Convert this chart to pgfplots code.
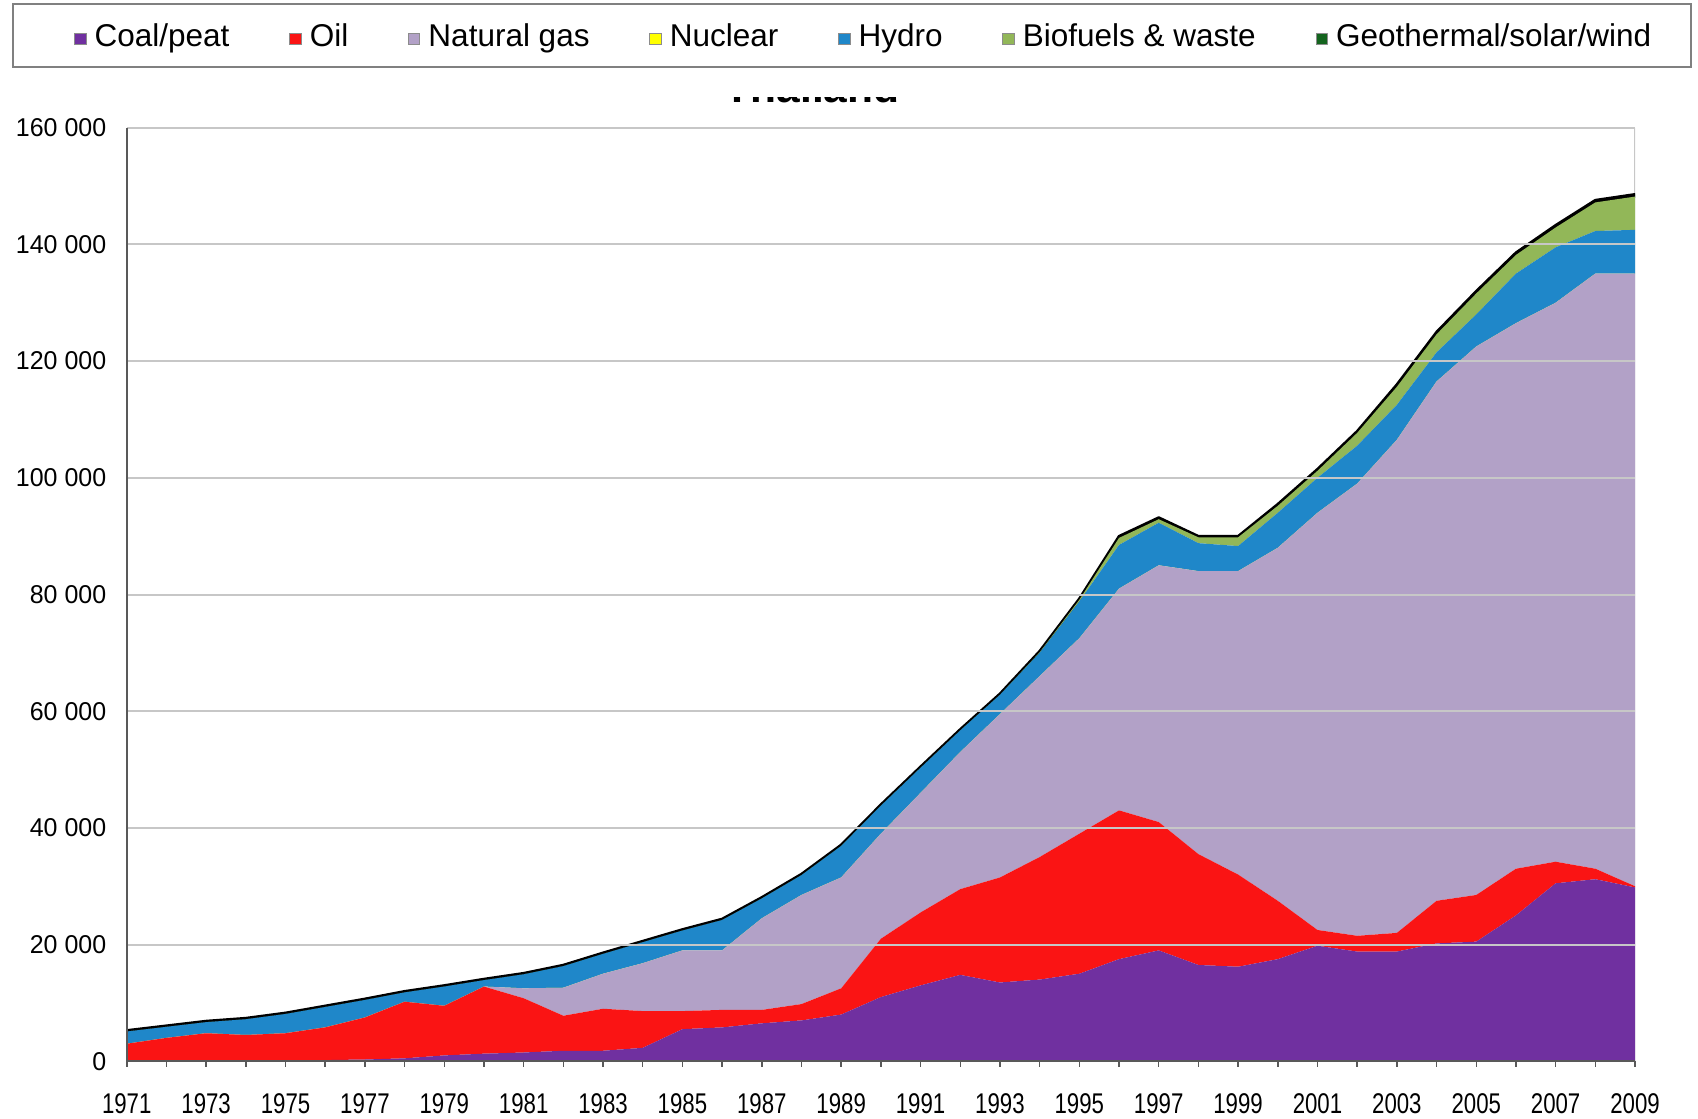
\documentclass[border=0pt]{standalone}
\usepackage{fontspec}
\setmainfont{Liberation Sans}
\usepackage{graphicx}
\usepackage{pgfplots}
\pgfplotsset{compat=1.18}
\usepackage{pgfplotstable}

\definecolor{coal}{RGB}{112,48,160}
\definecolor{oil}{RGB}{250,20,20}
\definecolor{gas}{RGB}{178,161,199}
\definecolor{nuclear}{RGB}{255,255,0}
\definecolor{hydro}{RGB}{31,135,201}
\definecolor{bio}{RGB}{146,183,88}
\definecolor{geo}{RGB}{20,100,30}

\pgfplotstableread{
year coal oil gas nuclear hydro bio geo
1971 200 2800 0 0 2100 0 200
1972 200 3800 0 0 1900 0 200
1973 200 4600 0 0 1900 0 200
1974 200 4300 0 0 2700 0 200
1975 200 4600 0 0 3300 0 200
1976 200 5600 0 0 3500 0 200
1977 300 7200 0 0 3000 0 200
1978 500 9700 0 0 1600 0 200
1979 1000 8500 0 0 3300 0 200
1980 1300 11500 0 0 1100 0 200
1981 1500 9300 1700 0 2400 0 200
1982 1800 6000 4800 0 3700 0 200
1983 1800 7200 6000 0 3400 0 200
1984 2300 6300 8200 0 3600 0 200
1985 5500 3100 10400 0 3400 0 200
1986 5800 3000 10200 0 5200 0 200
1987 6500 2300 15700 0 3400 0 200
1988 7000 2800 18700 0 3400 0 200
1989 8000 4500 19000 0 5400 0 200
1990 11000 10000 18000 0 4800 0 200
1991 13000 12500 20500 0 4300 0 200
1992 14800 14700 23500 0 3700 0 200
1993 13500 18000 28000 0 3300 0 200
1994 14000 21000 31000 0 4000 100 200
1995 15000 24000 33500 0 6300 300 200
1996 17500 25500 38000 0 7500 1200 300
1997 19000 22000 44000 0 7300 600 300
1998 16500 19000 48500 0 4800 1000 200
1999 16200 15800 52000 0 4300 1500 200
2000 17500 10000 60500 0 6000 1200 300
2001 19800 2700 71500 0 6000 1200 300
2002 18800 2700 77500 0 6500 2200 300
2003 18800 3200 84500 0 6000 3100 400
2004 20200 7300 89000 0 5000 3100 400
2005 20500 8000 94000 0 5500 3600 400
2006 25000 8000 93500 0 8500 3200 400
2007 30500 3700 95800 0 9500 3400 400
2008 31200 1800 102000 0 7300 4900 400
2009 29800 200 105000 0 7500 5700 400
}\data

\newcommand\sy[1]{\scalebox{0.97}[1]{#1}}
\newcommand\sx[1]{\scalebox{0.78}[1]{#1}}

\begin{document}
\begin{tikzpicture}
\useasboundingbox (0pt,0pt) rectangle (679.2pt,447.2pt);
\draw[black!50, line width=0.8pt] (5.2pt,445.6pt) rectangle (676.4pt,420.4pt);
\begin{axis}[
  at={(50.7pt,22.7pt)}, anchor=south west,
  scale only axis, width=603.3pt, height=373.4pt,
  xmin=1971, xmax=2009, ymin=0, ymax=160000,
  scaled y ticks=false,
  stack plots=y, area style,
  axis lines=left,
  axis line style={-, draw=black!65, line width=0.8pt},
  ymajorgrids, grid style={draw=black!22, line width=0.8pt},
  ytick={0,20000,40000,60000,80000,100000,120000,140000,160000},
  yticklabels={\sy{0},\sy{20 000},\sy{40 000},\sy{60 000},\sy{80 000},\sy{100 000},\sy{120 000},\sy{140 000},\sy{160 000}},
  ytick style={draw=none},
  yticklabel style={font=\fontsize{10.3}{12}\selectfont, inner sep=0pt, xshift=-5.8pt},
  xtick={1971,1973,...,2009},
  minor xtick={1972,1974,...,2008},
  xticklabels={\sx{1971},\sx{1973},\sx{1975},\sx{1977},\sx{1979},\sx{1981},\sx{1983},\sx{1985},\sx{1987},\sx{1989},\sx{1991},\sx{1993},\sx{1995},\sx{1997},\sx{1999},\sx{2001},\sx{2003},\sx{2005},\sx{2007},\sx{2009}},
  tick align=outside, major tick length=2.2pt, minor tick length=2.2pt,
  xtick style={draw=black!65, line width=0.6pt},
  xticklabel style={font=\fontsize{11.4}{13}\selectfont, inner sep=0pt, anchor=north, yshift=-10.6pt},
  legend columns=7,
  legend style={
    at={(-0.0352,1.0953)}, anchor=west,
    draw=none, fill=none,
    inner xsep=0pt, inner ysep=0pt,
    font=\fontsize{12.6}{14}\selectfont,
    nodes={inner xsep=1.5pt, inner ysep=0pt, text height=9.2pt, text depth=2.7pt},
    /tikz/every odd column/.append style={column sep=1.8pt},
    /tikz/every even column/.append style={column sep=22.4pt},
  },
  legend image code/.code={\draw[#1, draw=black!45, line width=0.3pt] (0pt,-2.3pt) rectangle (4.6pt,2.3pt);},
]
\addplot[fill=coal, draw=none] table[x=year, y=coal]{\data} \closedcycle;
\addplot[fill=oil, draw=none] table[x=year, y=oil]{\data} \closedcycle;
\addplot[fill=gas, draw=none] table[x=year, y=gas]{\data} \closedcycle;
\addplot[fill=nuclear, draw=none] table[x=year, y=nuclear]{\data} \closedcycle;
\addplot[fill=hydro, draw=none] table[x=year, y=hydro]{\data} \closedcycle;
\addplot[fill=bio, draw=none] table[x=year, y=bio]{\data} \closedcycle;
\addplot[fill=geo, draw=black, line width=1.0pt, line join=round] table[x=year, y=geo]{\data} \closedcycle;
\legend{Coal/peat, Oil, Natural gas, Nuclear, Hydro, Biofuels \& waste, Geothermal/solar/wind}
\draw[black!22, line width=0.8pt] (rel axis cs:1,0) -- (rel axis cs:1,1);
\end{axis}
\begin{scope}
\clip (0pt,405.6pt) rectangle (679.2pt,408.2pt);
\node[font=\bfseries\fontsize{17}{20}\selectfont, anchor=base, inner sep=0pt] at (324.8pt,406pt) {Thailand};
\end{scope}
\end{tikzpicture}
\end{document}
